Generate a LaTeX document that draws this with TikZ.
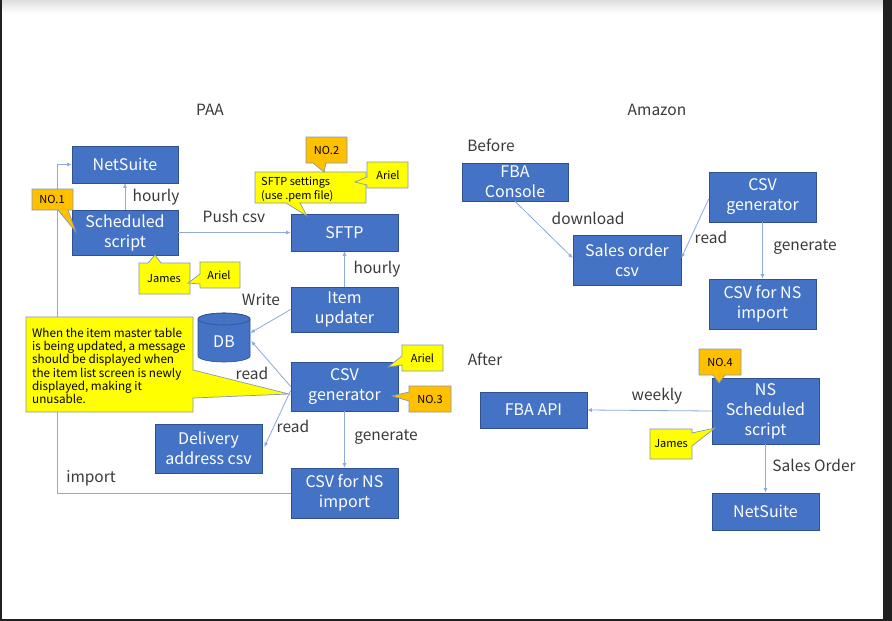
\documentclass[tikz,border=0pt]{standalone}
\usepackage{fontspec}
\setmainfont{Noto Sans CJK JP}
\usetikzlibrary{arrows.meta}
\definecolor{boxblue}{HTML}{4472C4}
\definecolor{boxedge}{HTML}{2F528F}
\definecolor{connc}{HTML}{8EA9DB}
\definecolor{cedge}{HTML}{8497B0}
\definecolor{cyel}{HTML}{FFFF00}
\definecolor{corg}{HTML}{FFC000}
\definecolor{lblc}{HTML}{3A3A3A}
\definecolor{framec}{HTML}{202020}
\begin{document}
\begin{tikzpicture}[x=1pt,y=-1pt,
 box/.style={draw=boxedge, line width=0.6pt, fill=boxblue, text=white, align=center, inner sep=0pt, font=\fontsize{16}{20}\selectfont},
 lab/.style={text=lblc, font=\fontsize{15.5}{18}\selectfont, inner sep=0pt},
 arr/.style={draw=connc, line width=0.8pt, -{Latex[length=4.5pt,width=4pt]}},
 ycall/.style={fill=cyel, draw=cedge, line width=0.7pt},
 ocall/.style={fill=corg, draw=cedge, line width=0.7pt},
 ctext/.style={font=\fontsize{11}{13.5}\selectfont, inner sep=0pt, text=black}
]
% page and frame
\useasboundingbox (0,0) rectangle (892,621);
\fill[white] (0,0) rectangle (892,621);
\shade[top color=black!13, bottom color=white] (2,0) rectangle (883,13);
\fill[framec] (0,0) rectangle (2,621);
\fill[framec] (883,0) rectangle (892,621);
\fill[framec] (0,619) rectangle (892,621);

% section labels
\node[lab] (lpaa) at (210,110) {PAA};
\node[lab] (lamz) at (657,110) {Amazon};
\node[lab] (lbef) at (491,145) {Before};
\node[lab] (laft) at (485,359) {After};

% PAA boxes
\node[box, minimum width=106pt, minimum height=37pt] (ns1) at (125,164.5) {NetSuite};
\node[box, minimum width=106pt, minimum height=45pt] (ss) at (125,232.5) {Scheduled\\script};
\node[box, minimum width=107pt, minimum height=37pt] (sftp) at (344.5,232.5) {SFTP};
\node[box, minimum width=107pt, minimum height=45pt] (iu) at (344.5,309.5) {Item\\updater};
\node[box, minimum width=107pt, minimum height=49pt] (cg) at (344.5,386.5) {CSV\\generator};
\node[box, minimum width=107pt, minimum height=50pt] (csvns) at (344.5,493) {CSV for NS\\import};
\node[box, minimum width=107pt, minimum height=49pt] (del) at (208.5,448.5) {Delivery\\address csv};

% DB cylinder
\path[fill=boxblue, draw=boxedge, line width=0.6pt] (198,319) -- (198,356)
  arc[start angle=180, end angle=0, x radius=26, y radius=6] -- (250,319)
  arc[start angle=0, end angle=-180, x radius=26, y radius=6] -- cycle;
\draw[boxedge, line width=0.6pt] (224,319) ellipse [x radius=26, y radius=6];
\node[inner sep=0pt, minimum width=52pt, minimum height=49pt] (db) at (224,337.5) {};
\node[text=white, font=\fontsize{16}{18}\selectfont, inner sep=0pt] (dbt) at (224,342) {DB};

% Amazon boxes
\node[box, minimum width=106pt, minimum height=38pt] (fba) at (515,182) {FBA\\Console};
\node[box, minimum width=108pt, minimum height=50pt] (so) at (627,260) {Sales order\\csv};
\node[box, minimum width=107pt, minimum height=50pt] (cg2) at (762.5,197) {CSV\\generator};
\node[box, minimum width=107pt, minimum height=50pt] (csvns2) at (762.5,304) {CSV for NS\\import};
\node[box, minimum width=107pt, minimum height=36pt] (api) at (533.5,410) {FBA API};
\node[box, minimum width=107pt, minimum height=66pt] (nss) at (765.5,411) {NS\\Scheduled\\script};
\node[box, minimum width=107pt, minimum height=37pt] (ns2) at (765.5,511.5) {NetSuite};

% PAA connectors
\coordinate (imp) at (57,493);
\draw[arr] (ss.north) -- (ns1.south);
\draw[arr] (ss.east) -- (sftp.west);
\draw[arr] (iu.north) -- (sftp.south);
\draw[arr] (iu.west) -- ([yshift=4.5pt]db.east);
\draw[arr] (cg.west) -- ([yshift=-3.5pt,xshift=1pt]db.east);
\draw[arr] ([yshift=-4pt]cg.west) -- ([yshift=1.5pt,xshift=2pt]del.east);
\draw[arr] (cg.south) -- (csvns.north);
\draw[arr] (csvns.west) -- (imp) |- (ns1.west);

% Amazon connectors
\draw[arr] (fba.south) -- ([yshift=2pt]so.west);
\draw[arr] ([yshift=-2pt]cg2.west) -- ([yshift=2pt]so.east);
\draw[arr] (cg2.south) -- (csvns2.north);
\draw[arr] (nss.west) -- (api.east);
\draw[arr] (nss.south) -- (ns2.north);

% connector labels
\node[lab] (lh1) at (156,197) {hourly};
\node[lab] (lpush) at (234,216) {Push csv};
\node[lab] (lh2) at (377,269) {hourly};
\node[lab] (lwrite) at (261,300) {Write};
\node[lab] (lread1) at (252,373) {read};
\node[lab] (lread2) at (293,426) {read};
\node[lab] (lgen1) at (386,437) {generate};
\node[lab] (limp) at (91,478) {import};
\node[lab] (ldl) at (588,218) {download};
\node[lab] (lread3) at (711,237) {read};
\node[lab] (lgen2) at (805,247) {generate};
\node[lab] (lweek) at (657,396) {weekly};
\node[lab] (lso) at (814,465) {Sales Order};

% callouts
\path[ocall] (32,189) -- (73,189) -- (73,210) -- (68,210) -- (76,232) -- (58,210) -- (32,210) -- cycle;
\node[ctext] (c1) at (52,199.5) {NO.1};

\path[ycall] (139,263) -- (148,263) -- (155,255) -- (161,263) -- (190,263) -- (190,294) -- (139,294) -- cycle;
\node[ctext] (c2) at (164,279) {James};

\path[ycall] (200,262) -- (240,262) -- (240,288) -- (200,288) -- (200,284) -- (188,283) -- (200,274) -- cycle;
\node[ctext] (c3) at (219,275) {Ariel};

\path[ycall] (255,172) -- (366,172) -- (366,203) -- (300,203) -- (307,216) -- (286,203) -- (255,203) -- cycle;
\node[ctext, align=left, anchor=west] (c4) at (261,189.5) {SFTP settings\\(use .pem file)};

\path[ocall] (306,137) -- (347,137) -- (347,163) -- (326,163) -- (324,172) -- (313,163) -- (306,163) -- cycle;
\node[ctext] (c5) at (326.5,150) {NO.2};

\path[ycall] (367,162) -- (408,162) -- (408,188) -- (367,188) -- (367,185) -- (355,182) -- (367,177) -- cycle;
\node[ctext] (c6) at (388,175) {Ariel};

\path[ycall] (26,317) -- (193,317) -- (193,370) -- (289,394) -- (193,398) -- (193,412) -- (26,412) -- cycle;
\node[ctext, align=left, anchor=west, font=\fontsize{11.7}{13.2}\selectfont] (c7) at (32,366) {When the item master table\\is being updated, a message\\should be displayed when\\the item list screen is newly\\displayed, making it\\unusable.};

\path[ycall] (402,345) -- (443,345) -- (443,371) -- (402,371) -- (402,365) -- (388,367) -- (402,356) -- cycle;
\node[ctext] (c8) at (422.5,358) {Ariel};

\path[ocall] (409,386) -- (451,386) -- (451,412) -- (409,412) -- (409,401) -- (392,396) -- (409,392) -- cycle;
\node[ctext] (c9) at (430,399.5) {NO.3};

\path[ocall] (699,349) -- (741,349) -- (741,375) -- (725,375) -- (719,383) -- (713,375) -- (699,375) -- cycle;
\node[ctext] (c10) at (720,362) {NO.4};

\path[ycall] (650,429) -- (692,429) -- (692,433) -- (715,428) -- (692,446) -- (692,459) -- (650,459) -- cycle;
\node[ctext] (c11) at (671,444) {James};
\end{tikzpicture}
\end{document}
